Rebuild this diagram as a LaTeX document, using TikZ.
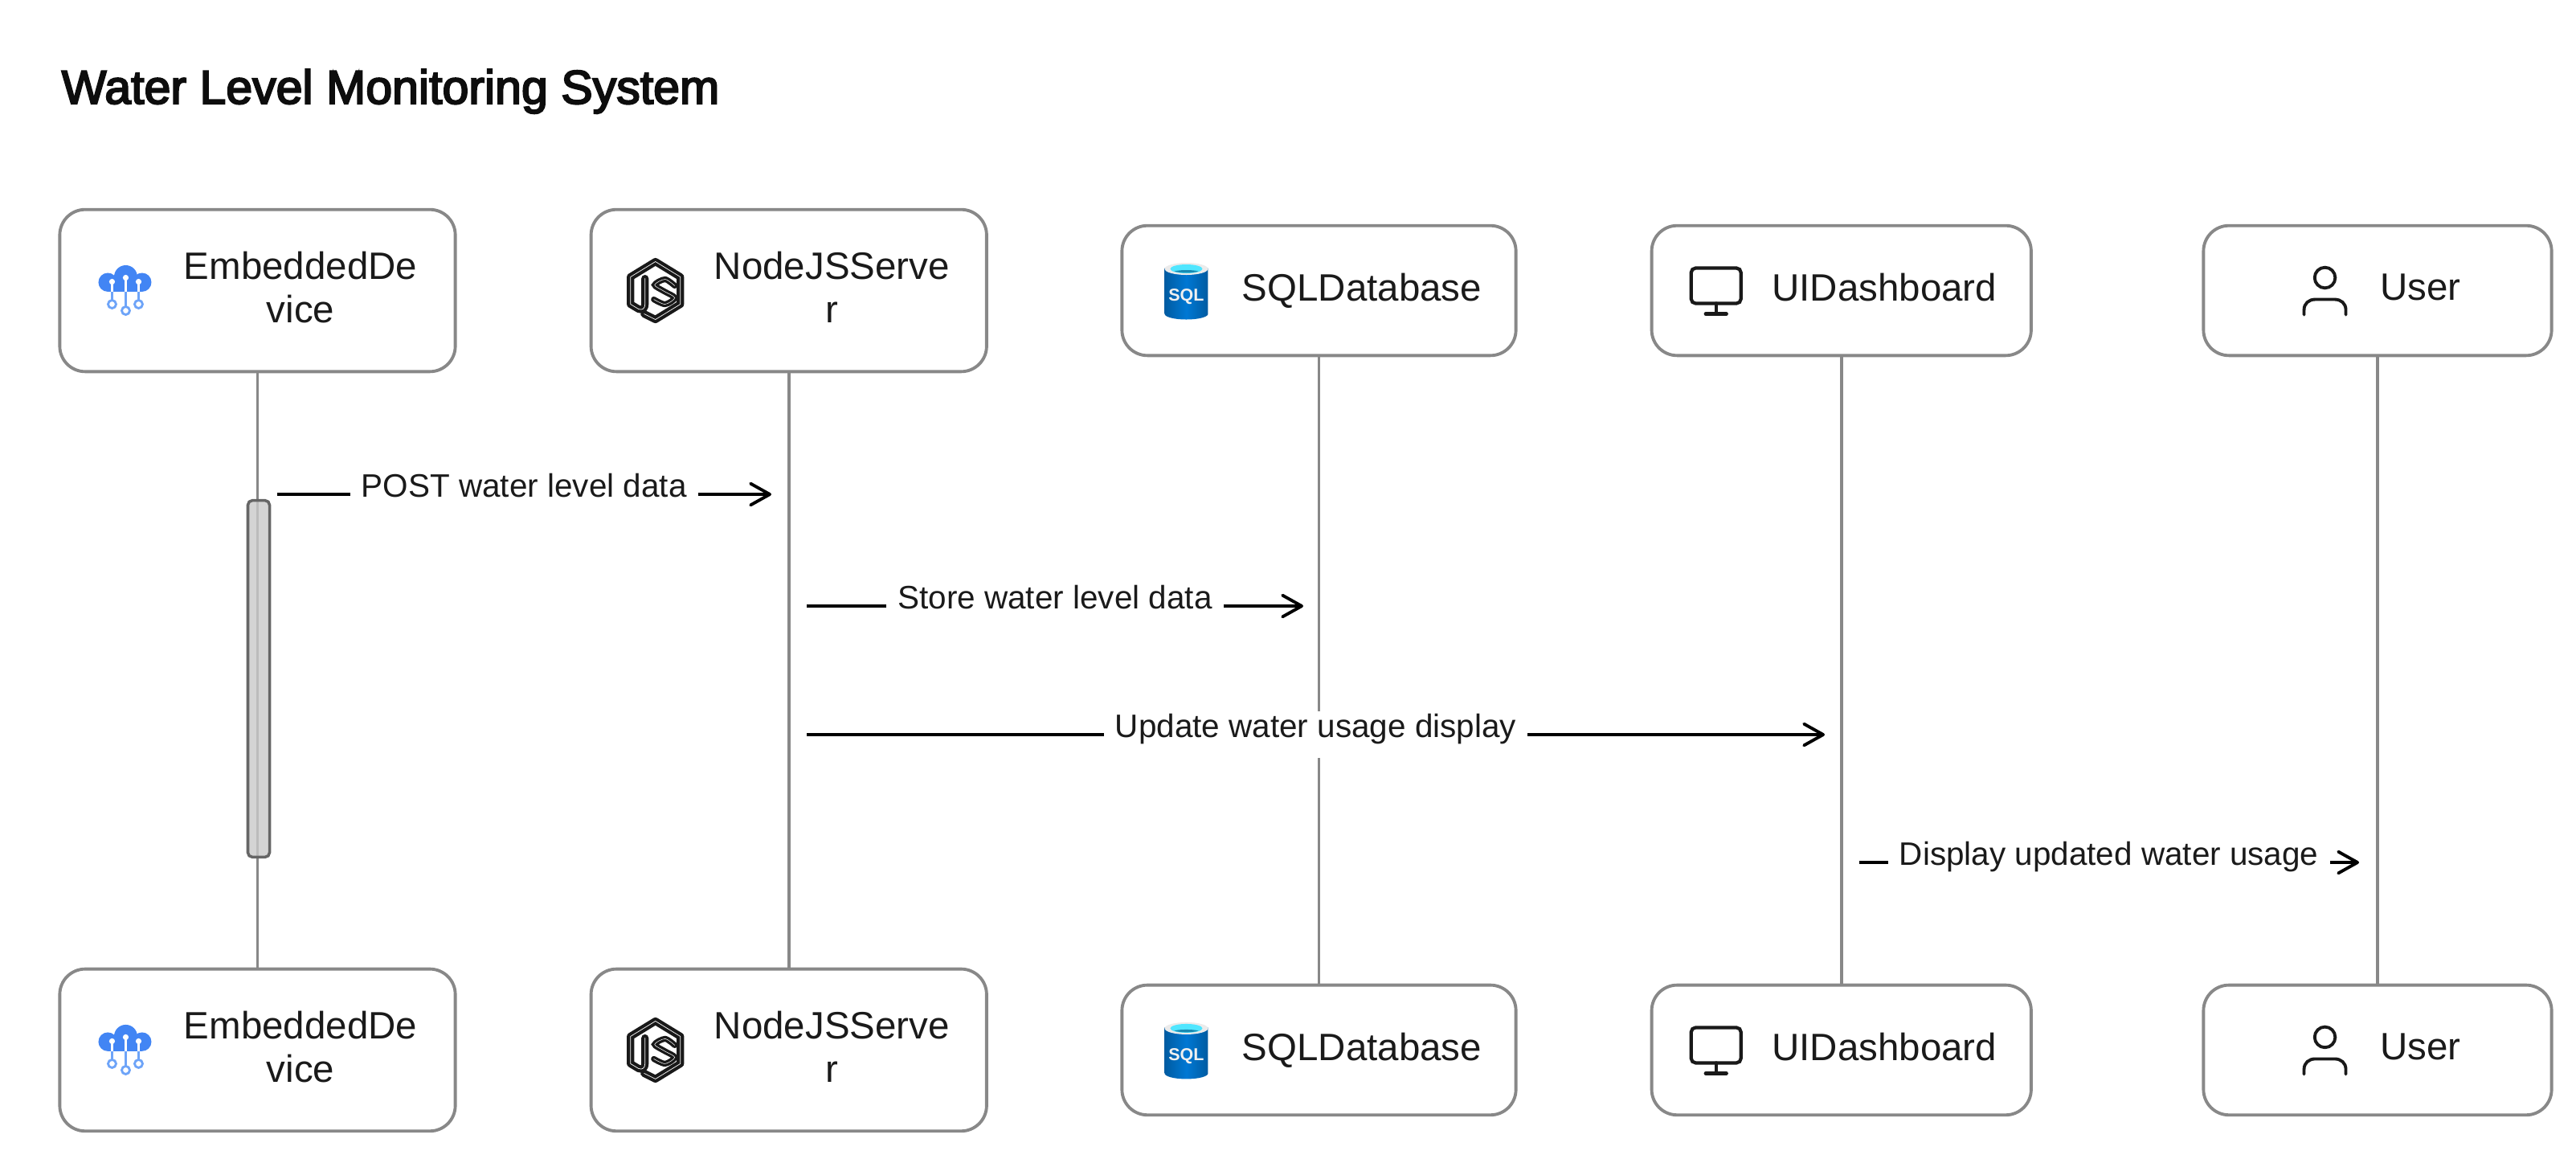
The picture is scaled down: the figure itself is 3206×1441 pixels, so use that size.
\documentclass[tikz,border=0pt]{standalone}
\usepackage{fontspec}
\setmainfont{Liberation Sans}
\newfontfamily\titlefont[FakeBold=3.5]{Liberation Sans}
\usetikzlibrary{arrows.meta,positioning}

\definecolor{boxline}{HTML}{888888}
\definecolor{barline}{HTML}{666666}
\definecolor{barfill}{HTML}{C9C9C9}
\definecolor{inktext}{HTML}{1A1A1A}
\definecolor{cloudblue}{HTML}{4285F4}
\definecolor{cloudpale}{HTML}{6EA4F8}
\definecolor{sqldark}{HTML}{005BA1}
\definecolor{sqlmid}{HTML}{0078D4}
\definecolor{sqlcyan}{HTML}{50E6FF}
\definecolor{sqlwater}{HTML}{198AB3}

\tikzset{
  pics/cloudicon/.style={code={
    \fill[cloudblue] (-22.3,-10.3) circle [radius=11.7];
    \fill[cloudblue] (20.3,-10.3) circle [radius=11.7];
    \fill[cloudblue] (0,-17) circle [radius=14.5];
    \fill[cloudblue] (-22.3,-17) rectangle (20.3,1.4);
    \draw[white,line width=0.6pt] (-17,-11) -- (-17,1.4) (0,-16) -- (0,1.4) (16,-11) -- (16,1.4);
    \fill[white] (-17,-11) circle [radius=3.6] (0,-16) circle [radius=3.6] (16,-11) circle [radius=3.6];
    \draw[cloudpale,line width=0.7pt] (-17,1.4) -- (-17,12) (0,1.4) -- (0,20) (16,1.4) -- (16,12);
    \draw[cloudpale,line width=0.8pt] (-17,17) circle [radius=5] (0,25) circle [radius=5] (16,17) circle [radius=5];
  }},
  pics/nodeicon/.style={code={
    \draw[black!90,line width=1.2pt,double=white,double distance=0.2pt,line join=round,line cap=round]
      (-14,29) -- (0,36) -- (31,17) -- (31,-17) -- (0,-36) -- (-31,-17) -- (-31,17) -- (-21,23)
      .. controls (-16,25) and (-13,22) .. (-13,17) -- (-13,-15);
    \draw[black!90,line width=0.95pt,double=white,double distance=0.15pt,line cap=round]
      plot[smooth] coordinates {(24,-6) (12,-14) (-1,-7) (11,1) (24,9) (12,17) (-2,11)};
  }},
  pics/sqlicon/.style={code={
    \shade[left color=sqldark,right color=sqldark,middle color=sqlmid]
      (-27,-28) -- (-27,29) arc [start angle=180,end angle=360,x radius=27,y radius=-7] -- (27,-28) -- cycle;
    \fill[black!8] (0,-27) ellipse [x radius=27,y radius=7.5];
    \fill[sqlcyan] (0,-27) ellipse [x radius=20,y radius=5.5];
    \fill[sqlwater] (-15,-24) .. controls (-8,-26) and (8,-26) .. (15,-24) .. controls (8,-21.5) and (-8,-21.5) .. (-15,-24) -- cycle;
    \node[text=black!6,inner sep=0pt,font=\fontsize{6.1}{6.1}\selectfont\bfseries] (sqlword) at (0,8) {SQL};
  }},
  pics/screenicon/.style={code={
    \draw[black!90,line width=1.2pt,rounded corners=1.6pt] (-31,-28) rectangle (31,16);
    \draw[black!90,line width=1.2pt,line cap=round] (0,16) -- (0,29) (-13,29) -- (13,29);
  }},
  pics/usericon/.style={code={
    \draw[black!90,line width=1.1pt] (0,-16) circle [radius=12.8];
    \draw[black!90,line width=1.1pt,line cap=round] (-26,30) -- (-26,24) .. controls (-26,16) and (-20,11) .. (-12,11)
      -- (12,11) .. controls (20,11) and (26,16) .. (26,24) -- (26,30);
  }}
}

\begin{document}
\begin{tikzpicture}
  [
  x=0.01cm,y=-0.01cm,
  lifebox/.style={rectangle,draw=boxline,fill=white,line width=1.1pt,rounded corners=9pt,inner sep=0pt},
  tallbox/.style={lifebox,minimum height=2.015cm},
  lowbox/.style={lifebox,minimum height=1.615cm},
  boxtext/.style={inner sep=0pt,align=center,text=inktext,xshift=0.535cm,yshift=0.04cm,text depth=0pt,
    font=\fontsize{13.5}{15.4}\selectfont},
  lifeline/.style={draw=boxline,line width=1pt},
  activebar/.style={rectangle,draw=barline,fill=barfill,fill opacity=0.8,line width=1pt,
    rounded corners=1.6pt,inner sep=0pt,minimum width=0.27cm,minimum height=4.435cm},
  msg/.style={-{Straight Barb[length=6.8pt,width=7.6pt,round]},line width=1.1pt,black},
  msglabel/.style={fill=white,text=inktext,inner ysep=0pt,inner xsep=0.14cm,midway,
    text height=0.32cm,text depth=0.26cm,font=\fontsize{11.5}{13}\selectfont}
  ]
  \useasboundingbox (0,0) rectangle (3206,1441);
  \node[anchor=base west,inner sep=0pt,text=black!95,font=\fontsize{16.8}{20}\titlefont] (title) at (76,129)
    {Water Level Monitoring System};

  % head row
  \node[tallbox,minimum width=4.92cm] (device top) at (320.5,361.5) {};
  \node[tallbox,minimum width=4.92cm,right=1.65cm of device top] (server top) {};
  \node[lowbox,minimum width=4.9cm,right=1.645cm of server top] (database top) {};
  \node[lowbox,minimum width=4.72cm,right=1.65cm of database top] (dashboard top) {};
  \node[lowbox,minimum width=4.33cm,right=2.105cm of dashboard top] (user top) {};

  % foot row
  \node[tallbox,minimum width=4.92cm,below=7.39cm of device top] (device bottom) {};
  \node[tallbox,minimum width=4.92cm,below=7.39cm of server top] (server bottom) {};
  \node[lowbox,minimum width=4.9cm,below=7.79cm of database top] (database bottom) {};
  \node[lowbox,minimum width=4.72cm,below=7.79cm of dashboard top] (dashboard bottom) {};
  \node[lowbox,minimum width=4.33cm,below=7.79cm of user top] (user bottom) {};

  % lifelines
  \draw[lifeline] (device top) -- (device bottom);
  \draw[lifeline] (server top) -- (server bottom);
  \draw[lifeline] (database top) -- (database bottom);
  \draw[lifeline] (dashboard top) -- (dashboard bottom);
  \draw[lifeline] (user top) -- (user bottom);

  \node[activebar] (device active) at (322,844.5) {};

  % texts
  \node[boxtext] (device top text) at (device top) {EmbeddedDe\\vice};
  \node[boxtext] (server top text) at (server top) {NodeJSServe\\r};
  \node[boxtext] (database top text) at (database top) {SQLDatabase};
  \node[boxtext] (dashboard top text) at (dashboard top) {UIDashboard};
  \node[boxtext] (user top text) at (user top) {User};
  \node[boxtext] (device bottom text) at (device bottom) {EmbeddedDe\\vice};
  \node[boxtext] (server bottom text) at (server bottom) {NodeJSServe\\r};
  \node[boxtext] (database bottom text) at (database bottom) {SQLDatabase};
  \node[boxtext] (dashboard bottom text) at (dashboard bottom) {UIDashboard};
  \node[boxtext] (user bottom text) at (user bottom) {User};

  % icons
  \pic at ([xshift=0.84cm]device top.west) {cloudicon};
  \pic at ([xshift=0.84cm]device bottom.west) {cloudicon};
  \pic at ([xshift=0.82cm]server top.west) {nodeicon};
  \pic at ([xshift=0.82cm]server bottom.west) {nodeicon};
  \pic at ([xshift=0.82cm]database top.west) {sqlicon};
  \pic at ([xshift=0.82cm]database bottom.west) {sqlicon};
  \pic at ([xshift=0.82cm]dashboard top.west) {screenicon};
  \pic at ([xshift=0.82cm]dashboard bottom.west) {screenicon};
  \pic at ([xshift=1.53cm]user top.west) {usericon};
  \pic at ([xshift=1.53cm]user bottom.west) {usericon};

  % messages
  \coordinate (post start) at (344.5,615);
  \coordinate (post end) at (960,615);
  \coordinate (store start) at (1004,754);
  \coordinate (store end) at (1622,754);
  \coordinate (update start) at (1004,914);
  \coordinate (update end) at (2271,914);
  \coordinate (show start) at (2313.5,1073);
  \coordinate (show end) at (2936,1073);
  \draw[msg] (post start) -- node[msglabel] (post text) {POST water level data} (post end);
  \draw[msg] (store start) -- node[msglabel] (store text) {Store water level data} (store end);
  \draw[msg] (update start) -- node[msglabel] (update text) {Update water usage display} (update end);
  \draw[msg] (show start) -- node[msglabel] (show text) {Display updated water usage} (show end);
\end{tikzpicture}
\end{document}
